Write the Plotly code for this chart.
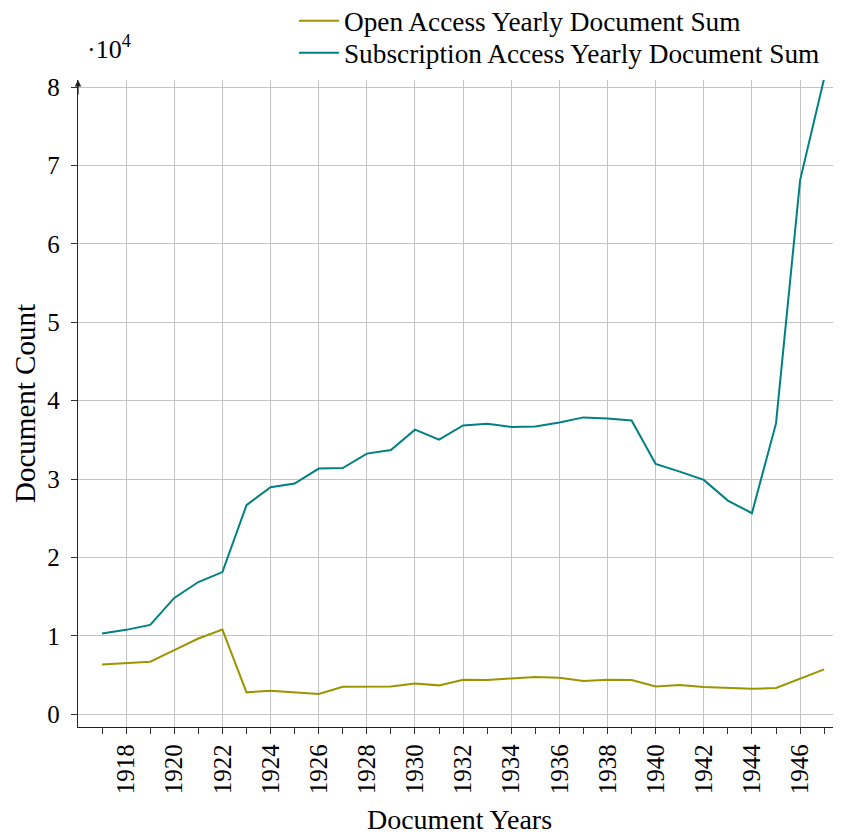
import plotly.graph_objects as go

years = list(range(1917, 1948))
open_access = [6360, 6530, 6700, 8180, 9670, 10810, 2800, 3000, 2750, 2580, 3510,
               3510, 3560, 3940, 3690, 4400, 4360, 4580, 4750, 4660, 4240, 4400,
               4360, 3560, 3730, 3470, 3350, 3260, 3350, 4490, 5730]
subscription = [10300, 10770, 11400, 14840, 16870, 18140, 26670, 28960, 29430, 31340,
                31400, 33250, 33710, 36300, 35030, 36850, 37060, 36640, 36720, 37230,
                37870, 37740, 37480, 31930, 30950, 29900, 27260, 25650, 37100, 68100, 81100]
y_tick_values = [0, 10000, 20000, 30000, 40000, 50000, 60000, 70000, 80000]
y_tick_labels = ["0", "1", "2", "3", "4", "5", "6", "7", "8"]
x_tick_values = list(range(1918, 1947, 2))

FONT = "Liberation Serif"
OLIVE = "#9c9400"
TEAL = "#008080"

# page body adds an 8px offset, so the figure is laid out 8px up/left
W, H = 833, 827
ML, MT, MB = 70, 72, 108
PH = H - MT - MB


def py(y_ref):
    """reference pixel row -> paper y"""
    return (H - MB - (y_ref - 8)) / PH


fig = go.Figure()
fig.add_trace(go.Scatter(x=years, y=open_access, mode="lines",
                         name="Open Access Yearly Document Sum",
                         line=dict(color=OLIVE, width=2), legend="legend"))
fig.add_trace(go.Scatter(x=years, y=subscription, mode="lines",
                         name="Subscription Access Yearly Document Sum",
                         line=dict(color=TEAL, width=2), legend="legend2"))

legend_common = dict(xanchor="left", yanchor="middle",
                     font=dict(family=FONT, size=27.3), bgcolor="rgba(0,0,0,0)",
                     itemwidth=40)

fig.update_layout(
    width=W, height=H,
    margin=dict(l=ML, r=0, t=MT, b=MB, autoexpand=False),
    paper_bgcolor="white", plot_bgcolor="white",
    font=dict(family=FONT, size=25, color="black"),
    showlegend=True,
    legend=dict(x=0.283, y=py(21), **legend_common),
    legend2=dict(x=0.283, y=py(53), **legend_common),
    xaxis=dict(range=[1916.0, 1947.7], tickmode="array", tickvals=x_tick_values,
               ticktext=[str(v) for v in x_tick_values], tickangle=-90,
               showgrid=True, gridcolor="#c4c4c4", gridwidth=1,
               showline=True, linecolor="#222", linewidth=1.3,
               ticks="outside", ticklen=6, tickcolor="#333", tickwidth=1,
               minor=dict(tickmode="linear", tick0=1917, dtick=2, ticks="outside",
                          ticklen=6, tickcolor="#333", showgrid=False),
               zeroline=False, ticklabelstandoff=0, automargin=False,
               title=dict(text="Document Years", standoff=17,
                          font=dict(family=FONT, size=28))),
    yaxis=dict(range=[-1620, 80900], tickmode="array", tickvals=y_tick_values,
               ticktext=y_tick_labels, showgrid=True, gridcolor="#c4c4c4", gridwidth=1,
               showline=True, linecolor="#222", linewidth=1.3,
               ticks="outside", ticklen=6, tickcolor="#333", tickwidth=1,
               zeroline=False, ticklabelstandoff=6, automargin=False,
               title=dict(text="Document Count", standoff=3,
                          font=dict(family=FONT, size=29))),
)

fig.add_annotation(xref="paper", yref="paper", x=0, y=1.0, ax=0, ay=16,
                   text="", showarrow=True, arrowhead=2, arrowsize=1,
                   arrowwidth=1.3, arrowcolor="#222")
fig.add_annotation(xref="paper", yref="paper", x=(85 - 8 - ML) / (W - ML), y=py(48),
                   xanchor="left", yanchor="middle", showarrow=False,
                   text="·10<sup>4</sup>", font=dict(family=FONT, size=26))

fig.write_html("out.html")
